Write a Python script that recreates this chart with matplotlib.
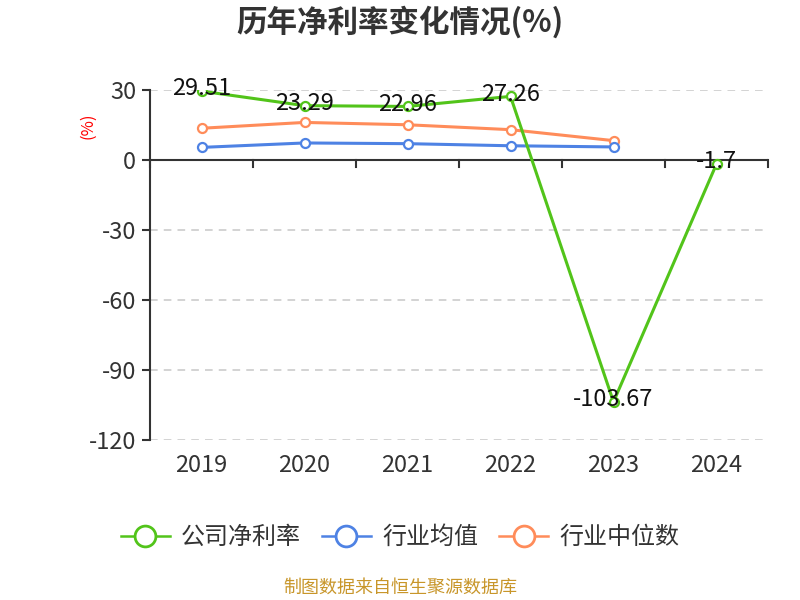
import matplotlib
matplotlib.use('Agg')
import matplotlib.pyplot as plt
from matplotlib.lines import Line2D

plt.rcParams['font.family'] = ['Noto Sans CJK SC', 'DejaVu Sans']
plt.rcParams['axes.unicode_minus'] = False

years = ['2019', '2020', '2021', '2022', '2023', '2024']
company = [29.51, 23.29, 22.96, 27.26, -103.67, -1.7]
industry_avg = [5.4, 7.3, 7.0, 6.1, 5.6]
industry_median = [13.6, 16.1, 15.1, 13.0, 8.3]

green = '#52c41a'
blue = '#4e82e4'
orange = '#ff8c5a'

fig = plt.figure(figsize=(8, 6), dpi=100)
ax = fig.add_axes([0.1875, 0.2667, 0.7725, 0.5833])

x = list(range(len(years)))
ax.plot(x[:5], industry_median, color=orange, lw=2.2, marker='o', ms=6.5,
        mfc='white', mec=orange, mew=1.6, zorder=3)
ax.plot(x[:5], industry_avg, color=blue, lw=2.2, marker='o', ms=6.5,
        mfc='white', mec=blue, mew=1.6, zorder=3)
ax.plot(x, company, color=green, lw=2.2, marker='o', ms=6.5,
        mfc='white', mec=green, mew=1.6, zorder=4)

for xi, v in zip(x, company):
    ax.text(xi, v + 1, '%g' % v, ha='center', va='center', fontsize=17,
            color='#111111', zorder=5)

ax.set_xlim(-0.5, 5.5)
ax.set_ylim(-120, 30)
ax.set_yticks([30, 0, -30, -60, -90, -120])
for yv in [30, -30, -60, -90, -120]:
    ax.axhline(yv, color='#c8c8c8', lw=1.1, ls=(0, (5, 4)), zorder=1)
ax.axhline(0, color='#333333', lw=1.5, zorder=2)

# category boundary ticks on the zero line
for b in [i - 0.5 for i in range(len(years) + 1)]:
    ax.plot([b, b], [0, -3], color='#333333', lw=1.5, clip_on=False, zorder=2)

ax.set_xticks(x)
ax.set_xticklabels(years)
ax.tick_params(axis='x', length=0, pad=10, labelsize=17, labelcolor='#333333')
ax.tick_params(axis='y', length=6, width=1.5, color='#333333', pad=4,
               labelsize=17, labelcolor='#333333')

for s in ['top', 'right', 'bottom']:
    ax.spines[s].set_visible(False)
ax.spines['left'].set_color('#333333')
ax.spines['left'].set_linewidth(1.5)

fig.text(0.11, 0.79, '(%)', color='red', rotation=90, fontsize=12,
         ha='center', va='center')

fig.text(0.5, 0.963, '历年净利率变化情况(%)', ha='center', va='center',
         fontsize=22, fontweight='bold', color='#333333')

handles = [
    Line2D([], [], color=green, lw=1.8, marker='o', ms=15, mfc='white', mec=green, mew=2),
    Line2D([], [], color=blue, lw=1.8, marker='o', ms=15, mfc='white', mec=blue, mew=2),
    Line2D([], [], color=orange, lw=1.8, marker='o', ms=15, mfc='white', mec=orange, mew=2),
]
fig.legend(handles, ['公司净利率', '行业均值', '行业中位数'], loc='center',
           bbox_to_anchor=(0.5, 0.105), ncol=3, frameon=False, fontsize=17.3,
           handlelength=2.05, columnspacing=0.875, handletextpad=0.46,
           labelcolor='#333333')

fig.text(0.5, 0.02, '制图数据来自恒生聚源数据库', ha='center', va='center',
         fontsize=13, color='#c8962a')

fig.savefig('out.png', dpi=100)
